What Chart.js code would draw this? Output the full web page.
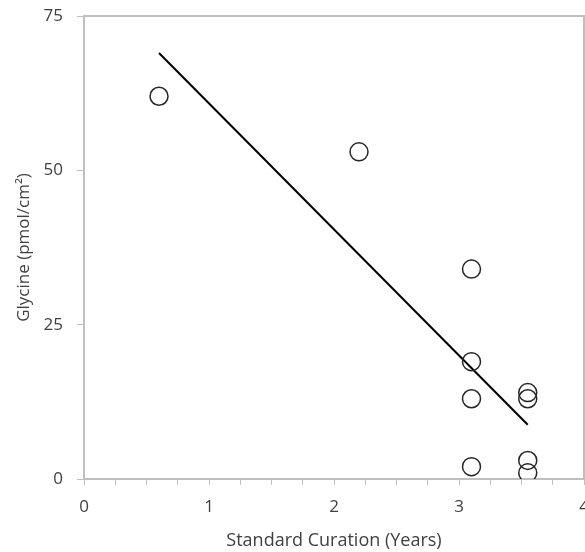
<!DOCTYPE html>
<html>
<head>
<meta charset="utf-8">
<script src="https://cdn.jsdelivr.net/npm/chart.js@4.4.1/dist/chart.umd.min.js"></script>
<style>
  html, body { margin: 0; padding: 0; background: #fff; }
  #wrap { width: 585px; height: 552px; }
</style>
</head>
<body>
<div id="wrap"><canvas id="chart"></canvas></div>
<script>
// measured points (years, pmol/cm2)
const curationYears = [0.6, 2.2, 3.1, 3.1, 3.1, 3.1, 3.55, 3.55, 3.55, 3.55];
const glycine = [62, 53, 34, 19, 13, 2, 14, 13, 3, 1];

// fitted trend line, endpoints
const trendX = [0.6, 3.55];
const trendY = [69, 8.8];

const xTicks = [0, 1, 2, 3, 4];
const yTicks = [0, 25, 50, 75];

const textColor = '#404040';
const axisColor = '#bfbfbf';
const fontFamily = "'Open Sans', sans-serif";

// box round the plot area (top and right sides)
const frame = {
    id: 'frame',
    beforeDatasetsDraw(chart) {
        const { ctx, chartArea: a } = chart;
        ctx.save();
        ctx.strokeStyle = axisColor;
        ctx.lineWidth = 2;
        ctx.beginPath();
        ctx.moveTo(a.left, a.top);
        ctx.lineTo(a.right, a.top);
        ctx.lineTo(a.right, a.bottom);
        ctx.stroke();
        ctx.restore();
    }
};

new Chart(document.getElementById('chart'), {
    type: 'scatter',
    data: {
        datasets: [
            {
                data: curationYears.map((x, i) => ({ x, y: glycine[i] })),
                pointRadius: 9,
                pointHoverRadius: 9,
                pointBorderWidth: 1.5,
                pointBorderColor: '#262626',
                pointBackgroundColor: 'rgba(255,255,255,0)',
                showLine: false
            },
            {
                data: trendX.map((x, i) => ({ x, y: trendY[i] })),
                showLine: true,
                borderColor: '#000',
                borderWidth: 2,
                pointRadius: 0,
                pointHoverRadius: 0
            }
        ]
    },
    options: {
        responsive: true,
        maintainAspectRatio: false,
        animation: false,
        layout: { autoPadding: false, padding: { top: 16, right: 1, left: 0, bottom: 0 } },
        plugins: {
            legend: { display: false },
            tooltip: { enabled: false }
        },
        scales: {
            x: {
                type: 'linear',
                min: 0,
                max: 4,
                afterFit(scale) {
                    scale.height = 73;
                    scale.paddingRight = 0;
                    scale.paddingLeft = 0;
                },
                ticks: {
                    stepSize: 0.25,
                    autoSkip: false,
                    maxRotation: 0,
                    padding: 12,
                    color: textColor,
                    font: { family: fontFamily, size: 17 },
                    callback: v => xTicks.includes(v) ? String(v) : ''
                },
                grid: {
                    drawOnChartArea: false,
                    drawTicks: true,
                    tickLength: 6,
                    color: axisColor
                },
                border: { color: axisColor, width: 2 },
                title: {
                    display: true,
                    text: 'Standard Curation (Years)',
                    color: textColor,
                    font: { family: fontFamily, size: 18 },
                    padding: { top: 0, bottom: 0 }
                }
            },
            y: {
                type: 'linear',
                min: 0,
                max: 75,
                afterFit(scale) {
                    scale.width = 84;
                    scale.paddingTop = 0;
                    scale.paddingBottom = 0;
                },
                afterBuildTicks(scale) {
                    scale.ticks = yTicks.map(v => ({ value: v }));
                },
                ticks: {
                    padding: 14,
                    color: textColor,
                    font: { family: fontFamily, size: 17 }
                },
                grid: {
                    drawOnChartArea: false,
                    drawTicks: true,
                    tickLength: 7,
                    color: axisColor
                },
                border: { color: axisColor, width: 2 },
                title: {
                    display: true,
                    text: 'Glycine (pmol/cm²)',
                    color: textColor,
                    font: { family: fontFamily, size: 17 },
                    padding: { top: 14, bottom: 0 }
                }
            }
        }
    },
    plugins: [frame]
});
</script>
</body>
</html>
